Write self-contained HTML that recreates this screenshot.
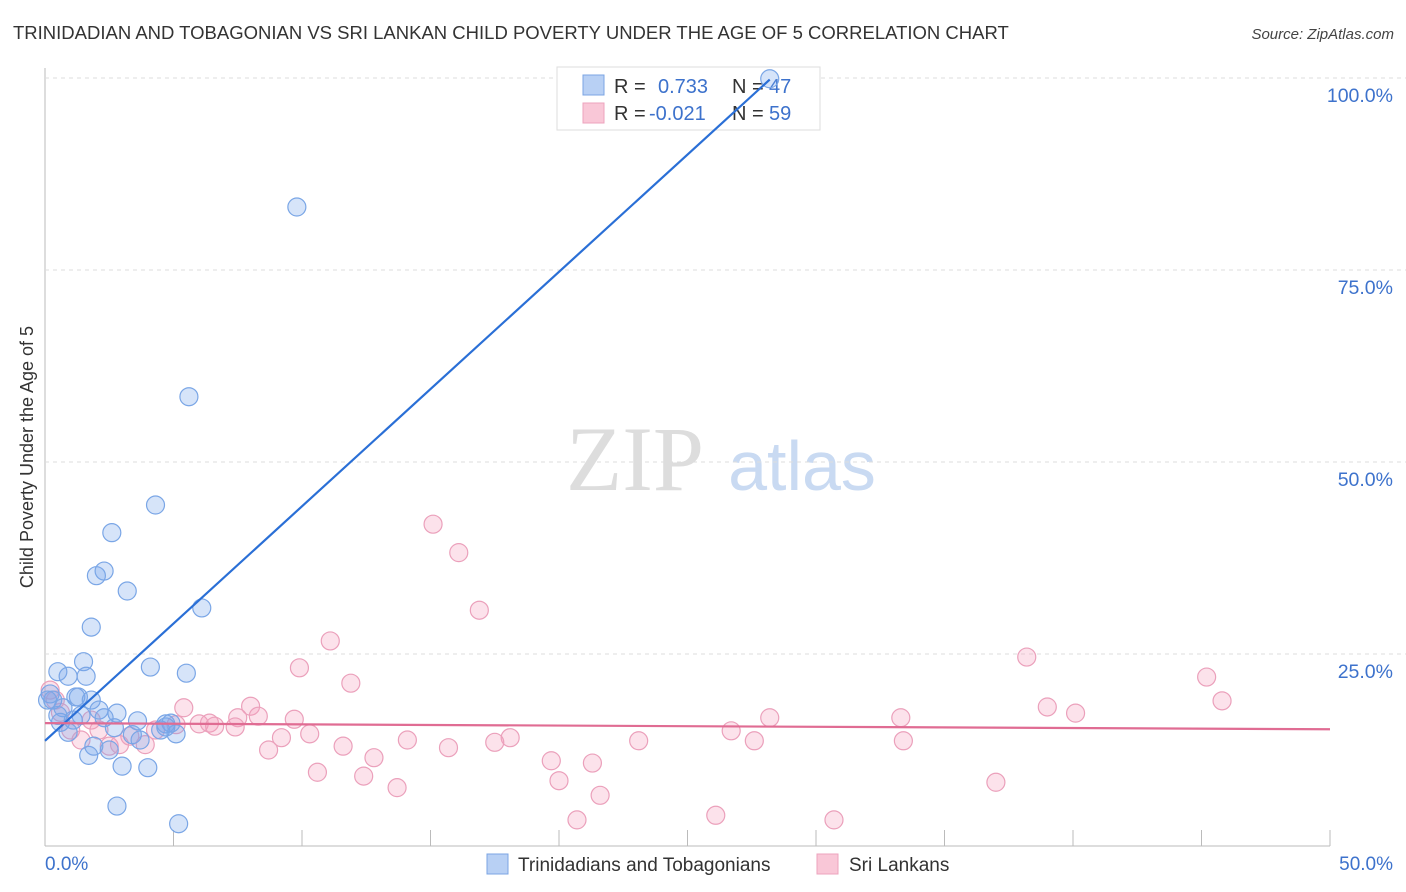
<!DOCTYPE html>
<html><head><meta charset="utf-8"><style>
body{margin:0;background:#fff;font-family:"Liberation Sans",sans-serif;}
svg{display:block}
</style></head><body>
<svg width="1406" height="892" viewBox="0 0 1406 892" xmlns="http://www.w3.org/2000/svg" id="chart">
<text x="13" y="39" font-size="18.5" fill="#333">TRINIDADIAN AND TOBAGONIAN VS SRI LANKAN CHILD POVERTY UNDER THE AGE OF 5 CORRELATION CHART</text>
<text x="1394" y="39" font-size="15" fill="#444" font-style="italic" text-anchor="end">Source: ZipAtlas.com</text>
<text transform="translate(33,457) rotate(-90)" font-size="18" fill="#333" text-anchor="middle">Child Poverty Under the Age of 5</text>
<g>
<text x="635" y="490" font-size="92" font-family="Liberation Serif,serif" fill="#ddd" text-anchor="middle">ZIP</text>
<text x="802" y="490" font-size="70" fill="#c9daf2" text-anchor="middle">atlas</text>
</g>
<g id="grid"></g>
<g>
<rect x="557" y="67" width="263" height="63" fill="#fff" stroke="#ddd"/>
<rect x="583" y="75" width="21" height="20" fill="#b8d0f4" stroke="#7ba4e3"/>
<rect x="583" y="103" width="21" height="20" fill="#f9c7d7" stroke="#eda3bd"/>
<text x="614" y="93" font-size="20" fill="#333">R =</text>
<text x="658" y="93" font-size="20" fill="#3d72cc">0.733</text>
<text x="732" y="93" font-size="20" fill="#333">N =</text>
<text x="769" y="93" font-size="20" fill="#3d72cc">47</text>
<text x="614" y="120" font-size="20" fill="#333">R =</text>
<text x="649" y="120" font-size="20" fill="#3d72cc">-0.021</text>
<text x="732" y="120" font-size="20" fill="#333">N =</text>
<text x="769" y="120" font-size="20" fill="#3d72cc">59</text>
</g>
<g id="pink"></g><g id="blue"></g><g id="lines"></g>
<g>
<rect x="487" y="854" width="21" height="20" fill="#b8d0f4" stroke="#7ba4e3"/>
<text x="518" y="871" font-size="19" fill="#333">Trinidadians and Tobagonians</text>
<rect x="817" y="854" width="21" height="20" fill="#f9c7d7" stroke="#eda3bd"/>
<text x="849" y="871" font-size="19" fill="#333">Sri Lankans</text>
</g>
<text x="45" y="870" font-size="19" fill="#3d72cc">0.0%</text>
<text x="1393" y="870" font-size="19" fill="#3d72cc" text-anchor="end">50.0%</text>
</svg>
<script>
const blueX=[28.2,9.8,5.6,4.3,2.6,2.3,2.0,3.2,6.1,1.8,1.5,4.1,5.5,0.5,0.9,1.6,0.2,0.3,1.2,1.3,1.8,0.7,2.1,2.8,2.3,0.6,1.1,3.6,4.7,4.9,2.7,0.9,3.4,5.1,4.5,1.9,2.5,1.7,3.0,4.0,2.8,5.2,0.1,4.7,0.5,3.7,1.4];
const blueY=[99.9,83.2,58.5,44.4,40.8,35.8,35.2,33.2,31.0,28.5,24.0,23.3,22.5,22.7,22.1,22.1,19.8,19.0,19.4,19.4,19.0,18.0,17.7,17.3,16.7,16.1,16.4,16.3,15.9,16.0,15.4,14.8,14.5,14.6,15.1,13.0,12.5,11.8,10.4,10.2,5.2,2.9,19.0,15.5,17.0,13.8,17.0];
const pinkX=[15.1,16.1,16.9,11.1,9.9,11.9,38.2,45.2,45.8,39.0,40.1,5.4,8.0,8.3,9.7,7.5,6.0,6.4,6.6,7.4,28.2,33.3,26.7,10.3,9.2,14.1,18.1,17.5,23.1,27.6,33.4,11.6,15.7,8.7,12.8,19.7,21.3,10.6,12.4,20.0,13.7,21.6,37.0,20.7,26.1,30.7,0.2,0.4,0.6,1.0,1.4,1.8,2.1,2.5,2.9,3.3,3.9,4.3,5.1];
const pinkY=[41.9,38.2,30.7,26.7,23.2,21.2,24.6,22.0,18.9,18.1,17.3,18.0,18.2,16.9,16.5,16.7,15.9,16.0,15.6,15.5,16.7,16.7,15.0,14.6,14.1,13.8,14.1,13.5,13.7,13.7,13.7,13.0,12.8,12.5,11.5,11.1,10.8,9.6,9.1,8.5,7.6,6.6,8.3,3.4,4.0,3.4,20.3,19.0,17.4,15.1,13.8,16.4,15.1,13.0,13.2,14.3,13.2,15.1,15.8];
const blueTrendX=[0,28.2];
const blueTrendY=[13.7,99.8];
const pinkTrendX=[0,50];
const pinkTrendY=[16.0,15.2];
const yTicks=[25,50,75,100];
const yTickLabels=["25.0%","50.0%","75.0%","100.0%"];
const xTicks=[0,5,10,15,20,25,30,35,40,45,50];
const NS="http://www.w3.org/2000/svg";
const sx=v=>45+v*25.7;
const sy=v=>846-v*7.68;
function mk(tag,attrs,parent){const e=document.createElementNS(NS,tag);for(const k in attrs)e.setAttribute(k,attrs[k]);parent.appendChild(e);return e;}
const grid=document.getElementById('grid');
const ax=mk('line',{x1:45,y1:68,x2:45,y2:846,stroke:'#bbb'},grid);


const bx=mk('line',{x1:45,y1:846,x2:1330,y2:846,stroke:'#bbb'},grid);


yTicks.forEach((t,i)=>{
 const g=mk('line',{x1:45,y1:sy(t),x2:1420,y2:sy(t),stroke:'#ddd','stroke-dasharray':'4,4'},grid);
 
 
 const tx=mk('text',{x:1393,y:sy(t)+24,'font-size':19.5,fill:'#3d72cc','text-anchor':'end'},grid);
 tx.textContent=yTickLabels[i];
 
 
});
xTicks.forEach(t=>{
 const l=mk('line',{x1:sx(t),y1:830,x2:sx(t),y2:846,stroke:'#bbb'},grid);
 
 
});
const pg=document.getElementById('pink');
pinkX.forEach((x,i)=>{
 const c=mk('circle',{cx:sx(x),cy:sy(pinkY[i]),r:9,fill:'rgba(244,160,190,0.3)',stroke:'#eba0bb','stroke-width':1.2},pg);
 
 
});
const bg=document.getElementById('blue');
blueX.forEach((x,i)=>{
 const c=mk('circle',{cx:sx(x),cy:sy(blueY[i]),r:9,fill:'rgba(120,165,235,0.3)',stroke:'#7aa6e6','stroke-width':1.2},bg);
 
 
});
const lg=document.getElementById('lines');
const bl=mk('line',{x1:sx(blueTrendX[0]),y1:sy(blueTrendY[0]),x2:sx(blueTrendX[1]),y2:sy(blueTrendY[1]),stroke:'#2a6fd6','stroke-width':2.2},lg);


const pl=mk('line',{x1:sx(pinkTrendX[0]),y1:sy(pinkTrendY[0]),x2:sx(pinkTrendX[1]),y2:sy(pinkTrendY[1]),stroke:'#e06c93','stroke-width':2.2},lg);


</script>
</body></html>
